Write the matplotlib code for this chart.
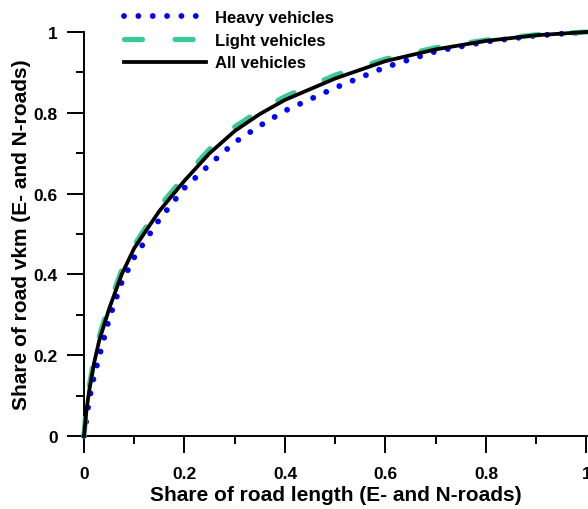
"""Cumulative share of road vkm against cumulative share of road length,
E- and N-roads, split by vehicle class."""
import matplotlib
matplotlib.use("Agg")
import matplotlib.pyplot as plt
from matplotlib.ticker import FixedLocator, MultipleLocator

plt.rcParams["font.family"] = ["Liberation Sans", "DejaVu Sans"]
plt.rcParams["font.weight"] = "bold"

# cumulative share of road length (sorted by traffic, descending)
share_length = [0.0, 0.005, 0.01, 0.02, 0.03, 0.05, 0.075, 0.1, 0.15, 0.2,
                0.25, 0.3, 0.35, 0.4, 0.5, 0.6, 0.7, 0.8, 0.9, 1.0]

# cumulative share of vkm
heavy_vkm = [0.0, 0.042, 0.088, 0.148, 0.195, 0.29, 0.38, 0.442, 0.536, 0.614,
             0.672, 0.727, 0.768, 0.805, 0.862, 0.913, 0.952, 0.976, 0.991, 1.0]
light_vkm = [0.0, 0.08, 0.12, 0.19, 0.245, 0.325, 0.41, 0.472, 0.568, 0.642,
             0.71, 0.765, 0.806, 0.840, 0.893, 0.933, 0.961, 0.980, 0.993, 1.0]
all_vkm = [0.0, 0.065, 0.11, 0.18, 0.235, 0.315, 0.40, 0.465, 0.557, 0.632,
           0.70, 0.755, 0.797, 0.832, 0.885, 0.928, 0.957, 0.978, 0.992, 1.0]

x_ticks = [0.0, 0.2, 0.4, 0.6, 0.8, 1.0]
x_ticklabels = ["0", "0.2", "0.4", "0.6", "0.8", "1"]
y_ticks = [0.0, 0.2, 0.4, 0.6, 0.8, 1.0]
y_ticklabels = ["0", "0.2", "0.4", "0.6", "0.8", "1"]

BLUE = "#0000ff"
GREEN = "#3cc99a"

fig = plt.figure(figsize=(5.88, 5.10), dpi=100)
ax = fig.add_axes([84 / 588, 73 / 510, 504 / 588, 404 / 510])

ax.plot(share_length, heavy_vkm, color=BLUE, lw=4.2,
        linestyle=(0, (0.01, 2.45)), dash_capstyle="round",
        clip_on=False, zorder=3, label="Heavy vehicles")
ax.plot(share_length, light_vkm, color=GREEN, lw=3.8,
        linestyle=(0, (3.4, 6.2)), dash_capstyle="round",
        clip_on=False, zorder=4, label="Light vehicles")
ax.plot(share_length, all_vkm, color="black", lw=2.7,
        clip_on=False, zorder=5, label="All vehicles")

ax.set_xlim(0, 1.003)
ax.set_ylim(0, 1)
ax.spines["top"].set_visible(False)
ax.spines["right"].set_visible(False)
for side in ("left", "bottom"):
    ax.spines[side].set_linewidth(1.4)

ax.xaxis.set_major_locator(FixedLocator(x_ticks))
ax.set_xticklabels(x_ticklabels)
ax.yaxis.set_major_locator(FixedLocator(y_ticks))
ax.set_yticklabels(y_ticklabels)
ax.xaxis.set_minor_locator(MultipleLocator(0.1))
ax.yaxis.set_minor_locator(MultipleLocator(0.1))
ax.tick_params(which="major", direction="out", length=12, width=1.4,
               labelsize=12.5)
ax.tick_params(which="minor", direction="out", length=6, width=1.4)
ax.tick_params(axis="x", which="major", pad=9.5)
ax.tick_params(axis="y", which="major", pad=7)

ax.set_xlabel("Share of road length (E- and N-roads)", fontsize=15,
              fontweight="bold", labelpad=3)
ax.set_ylabel("Share of road vkm (E- and N-roads)", fontsize=15,
              fontweight="bold", labelpad=2)

fig.legend(loc="upper left", bbox_to_anchor=(124 / 588, 1 - 11 / 510),
           frameon=False, fontsize=12, handlelength=4.9, handletextpad=0.55,
           labelspacing=0.46, borderpad=0, borderaxespad=0)

fig.savefig("out.png", dpi=100)
